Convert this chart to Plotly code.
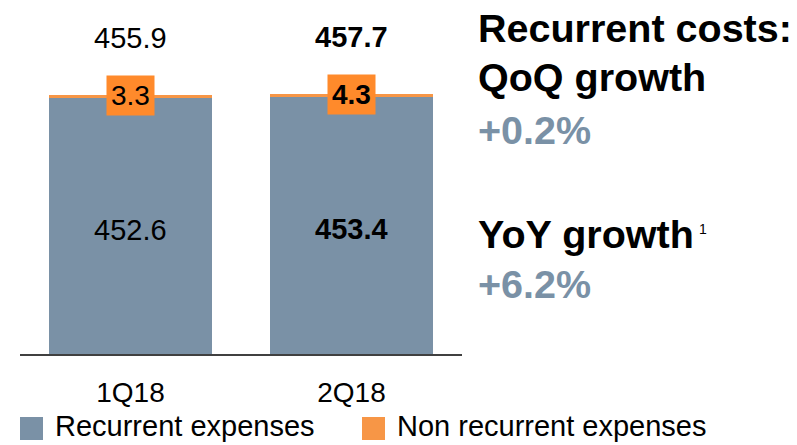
import plotly.graph_objects as go

W, H = 797, 445

categories = ["1Q18", "2Q18"]
recurrent = [452.6, 453.4]
non_recurrent = [3.3, 4.3]
totals = [455.9, 457.7]
bold_flags = [False, True]

legend_names = ["Recurrent expenses", "Non recurrent expenses"]
panel_title = ["Recurrent costs:", "QoQ growth"]
qoq_growth = "+0.2%"
yoy_title = "YoY growth"
yoy_growth = "+6.2%"
footnote = "1"

BLUE = "#7A91A6"
ORANGE = "#F79646"
ORANGE_BOX = "#FF8A2B"
AXIS = "#404040"
FONT = "Liberation Sans, Arial, sans-serif"

def px_x(p):
    return p / W

def px_y(p):
    return 1 - p / H

def fmt(v, bold):
    s = f"{v:.1f}"
    return f"<b>{s}</b>" if bold else s

fig = go.Figure()
fig.add_trace(go.Bar(x=categories, y=recurrent, marker=dict(color=BLUE, line=dict(width=0)),
                     name=legend_names[0], showlegend=False, hoverinfo="skip"))
fig.add_trace(go.Bar(x=categories, y=non_recurrent, marker=dict(color=ORANGE, line=dict(width=0)),
                     name=legend_names[1], showlegend=False, hoverinfo="skip"))

annotations = []
for c, r, n, t, b in zip(categories, recurrent, non_recurrent, totals, bold_flags):
    annotations.append(dict(x=c, y=t, xref="x", yref="y", text=fmt(t, b), showarrow=False,
                            yanchor="middle", yshift=57, font=dict(family=FONT, size=29, color="black")))
    annotations.append(dict(x=c, y=r / 2, xref="x", yref="y", text=fmt(r, b), showarrow=False,
                            yanchor="middle", yshift=-4, font=dict(family=FONT, size=29, color="black")))
    annotations.append(dict(x=c, y=t, xref="x", yref="y", text=fmt(n, b), showarrow=False,
                            yanchor="middle", bgcolor=ORANGE_BOX, borderpad=4,
                            font=dict(family=FONT, size=28, color="black")))

right_x = px_x(476)
panel = [
    (panel_title[0], 28, "black"),
    (panel_title[1], 77, "black"),
    (qoq_growth, 130, BLUE),
    (yoy_title, 234, "black"),
    (yoy_growth, 284, BLUE),
]
for txt, yc, col in panel:
    annotations.append(dict(x=right_x, y=px_y(yc), xref="paper", yref="paper", text=f"<b>{txt}</b>",
                            showarrow=False, xanchor="left", yanchor="middle",
                            font=dict(family=FONT, size=39.5, color=col)))
annotations.append(dict(x=px_x(697), y=px_y(229), xref="paper", yref="paper", text=footnote,
                        showarrow=False, xanchor="left", yanchor="middle",
                        font=dict(family=FONT, size=14, color="black")))

shapes = []
legend_items = [(legend_names[0], BLUE, 20), (legend_names[1], ORANGE, 362)]
for name, col, x0 in legend_items:
    shapes.append(dict(type="rect", xref="paper", yref="paper", x0=px_x(x0), x1=px_x(x0 + 23),
                       y0=px_y(440), y1=px_y(417), fillcolor=col, line=dict(width=0)))
    annotations.append(dict(x=px_x(x0 + 33), y=px_y(426), xref="paper", yref="paper", text=name,
                            showarrow=False, xanchor="left", yanchor="middle",
                            font=dict(family=FONT, size=29, color="black")))

base_px = 354
fig.update_layout(
    width=W, height=H,
    margin=dict(l=0, r=0, t=0, b=0),
    paper_bgcolor="white", plot_bgcolor="white",
    barmode="stack", bargap=0.258,
    showlegend=False,
    xaxis=dict(domain=[px_x(20), px_x(462)], showline=True, linecolor=AXIS, linewidth=1.5,
               ticks="", showgrid=False, zeroline=False, ticklabelstandoff=13,
               tickfont=dict(family=FONT, size=28, color="black"), fixedrange=True),
    yaxis=dict(domain=[1 - base_px / H, 1], range=[0, 624], visible=False, fixedrange=True),
    annotations=annotations,
    shapes=shapes,
    font=dict(family=FONT),
)

fig.write_html("out.html", config={"displayModeBar": False},
               post_script="document.body.style.margin='0';document.body.style.overflow='hidden';")
